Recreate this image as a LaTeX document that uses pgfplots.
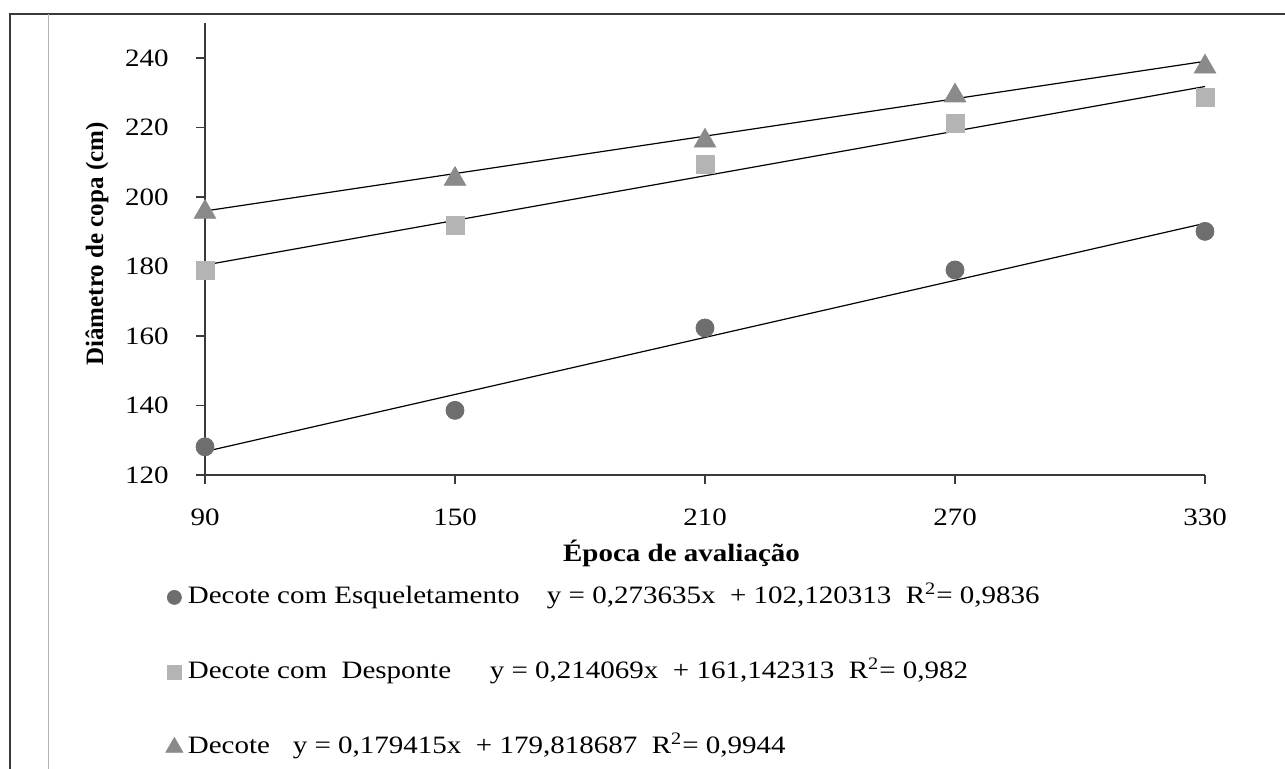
\documentclass[border=0pt]{standalone}
\usepackage{fontspec}
\setmainfont{Liberation Serif}[FakeStretch=1.16]
\newfontfamily\ylabfont{Liberation Serif}
\usepackage{pgfplots}
\pgfplotsset{compat=1.18}
\definecolor{cE}{HTML}{6E6E6E}
\definecolor{cD}{HTML}{B4B4B4}
\definecolor{cT}{HTML}{8A8A8A}
\definecolor{axc}{HTML}{3A3A3A}
\begin{document}
\begin{tikzpicture}
\path[use as bounding box] (0,0) rectangle (642.5pt,384.5pt);
\draw[axc, line width=1pt] (5pt,0pt) -- (5pt,377.5pt) -- (642.5pt,377.5pt);
\draw[black!30, line width=0.5pt] (24pt,0pt) -- (24pt,377.5pt);
\begin{axis}[
  at={(102.5pt,147pt)}, anchor=south west,
  scale only axis, width=500pt, height=225.9pt,
  xmin=90, xmax=330, ymin=120, ymax=250,
  xtick={90,150,210,270,330}, ytick={120,140,...,240},
  axis lines=left, axis line style={-, axc, line width=0.7pt},
  tick style={axc, line width=0.7pt}, tick align=outside, major tick length=4.5pt,
  tick label style={font=\fontsize{12.5}{15}\selectfont},
  /pgf/number format/assume math mode=true,
  /pgf/number format/1000 sep={},
  yticklabel style={anchor=east, inner sep=0pt, xshift=-13.5pt},
  xticklabel style={anchor=north, inner sep=0pt, yshift=-12pt},
  clip=false,
  legend cell align=left,
  legend image code/.code={\draw[#1] plot coordinates {(0pt,0pt)};},
  legend style={at={(-0.0395,-0.2435)}, anchor=north west, draw=none, fill=none,
    inner sep=0pt, row sep=25.5pt, column sep=2.5pt,
    font=\fontsize{12.5}{15}\selectfont,
    nodes={inner sep=0pt, text height=9pt, text depth=3pt}},
]
% measured points
\addplot[only marks, mark=*, color=cE, mark size=4.5pt, forget plot] coordinates {
  (90,128.1) (150,138.6) (210,162.3) (270,179.0) (330,190.1)};
\addplot[only marks, mark=square*, color=cD, mark size=4.5pt, forget plot] coordinates {
  (90,179.0) (150,191.7) (210,209.5) (270,221.2) (330,228.7)};
\addplot[only marks, mark=triangle*, color=cT, mark size=6.2pt, mark options={yshift=-1.5pt}, forget plot] coordinates {
  (90,196.5) (150,206.0) (210,217.0) (270,230.0) (330,238.3)};
% trend lines (from the fitted equations)
\addplot[black, line width=0.6pt, forget plot] coordinates {(90,126.747) (330,192.420)};
\addplot[black, line width=0.6pt, forget plot] coordinates {(90,180.409) (330,231.785)};
\addplot[black, line width=0.6pt, forget plot] coordinates {(90,195.966) (330,239.026)};
% legend
\addlegendimage{only marks, mark=*, color=cE, mark size=3.5pt}
\addlegendentry{\makebox[179.5pt][l]{Decote com Esqueletamento}y = 0,273635x\ \ + 102,120313\ \ R\textsuperscript{2}= 0,9836}
\addlegendimage{only marks, mark=square*, color=cD, mark size=3.5pt}
\addlegendentry{\makebox[151pt][l]{Decote com\ \ Desponte}y = 0,214069x\ \ + 161,142313\ \ R\textsuperscript{2}= 0,982}
\addlegendimage{only marks, mark=triangle*, color=cT, mark size=4.9pt}
\addlegendentry{\makebox[52.5pt][l]{Decote}y = 0,179415x\ \ + 179,818687\ \ R\textsuperscript{2}= 0,9944}
\end{axis}
\node[anchor=base, font=\fontsize{12.5}{15}\selectfont\bfseries] at (340.75pt,103.5pt) {Época de avaliação};
\node[rotate=90, anchor=center, font=\ylabfont\fontsize{12.5}{15}\selectfont\bfseries] at (48.5pt,262.5pt) {Diâmetro de copa (cm)};
\end{tikzpicture}
\end{document}
